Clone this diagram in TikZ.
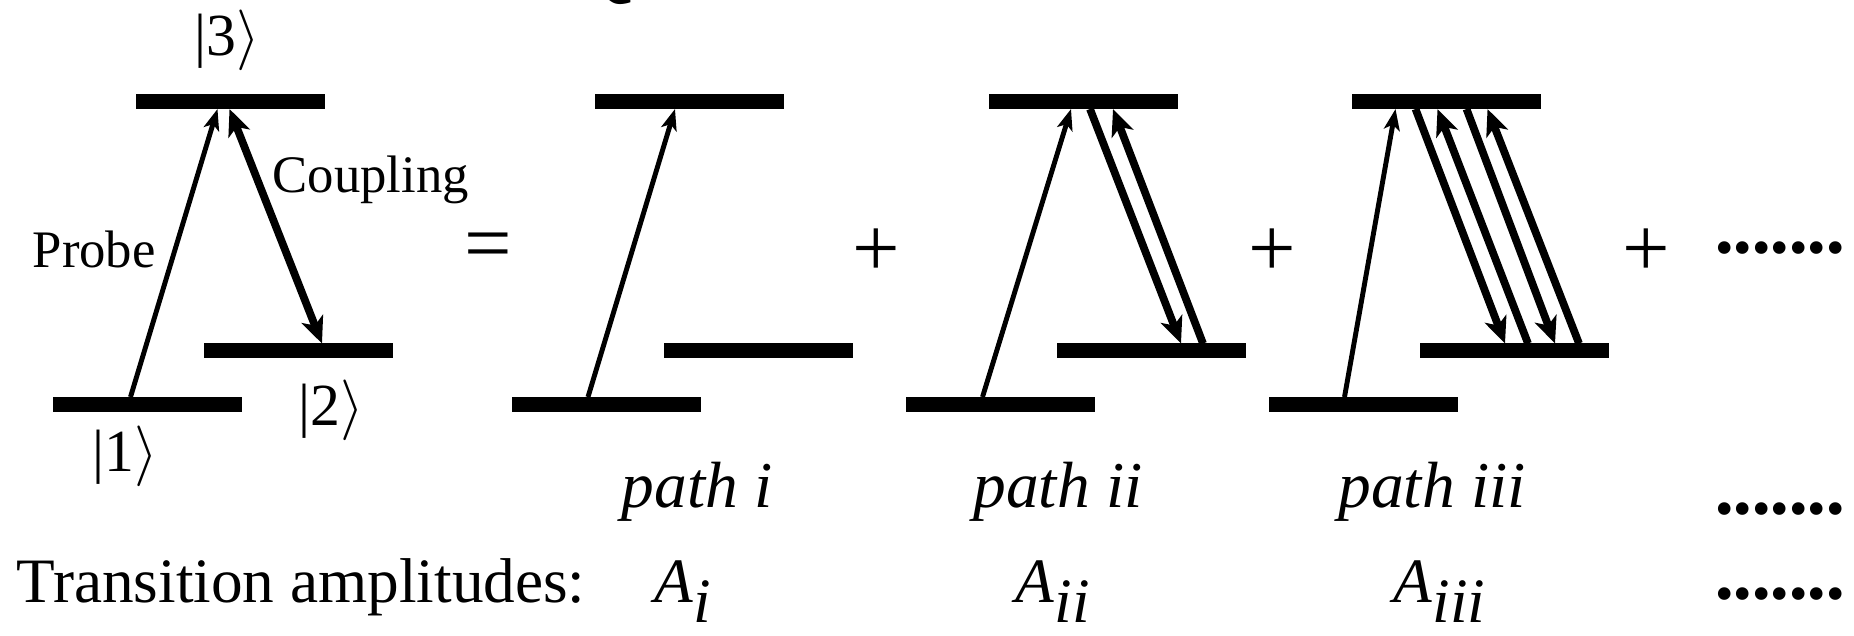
\documentclass[tikz,border=0pt]{standalone}
\usepackage{fontspec}
\setmainfont{Liberation Serif}
\usepackage{tikz}
\usetikzlibrary{arrows.meta, positioning}

\begin{document}
\begin{tikzpicture}[
    niveau/.style={rectangle, fill=black, minimum width=1.89cm,
                   minimum height=0.15cm, inner sep=0pt, outer sep=0pt},
    sonde/.style={-{Stealth[length=6pt, width=4.5pt, inset=1.5pt]}, line width=1.4pt},
    couplage/.style={-{Stealth[length=7.5pt, width=6.5pt, inset=2pt]}, line width=2.2pt},
    aller-retour/.style={{Stealth[length=7.5pt, width=6.5pt, inset=2pt]}-{Stealth[length=7.5pt, width=6.5pt, inset=2pt]},
                  line width=2.2pt},
    ket/.style={font=\fontsize{17}{19}\selectfont, inner sep=0pt},
    legende/.style={font=\fontsize{15}{17}\selectfont, inner sep=0pt, anchor=base west},
    signe/.style={font=\fontsize{24}{26}\selectfont, inner sep=0pt},
    chemin/.style={font=\fontsize{18.6}{21}\selectfont\itshape, inner sep=0pt, anchor=base},
    ampli/.style={font=\fontsize{18}{20}\selectfont, inner sep=0pt, anchor=base},
    points/.style={font=\fontsize{15}{17}\selectfont, inner sep=0pt}
  ]
    \useasboundingbox (0,0) rectangle (18.54,6.35);

    % Titre (coupe)
    \node[font=\fontsize{30}{32}\selectfont, inner sep=0pt, anchor=base west] (titre) at (5.56,6.475) {Q};

    % Schema Lambda
    \node[niveau] (L1) at (1.47,2.305) {};
    \node[niveau] (L2) at (2.985,2.84) {};
    \node[niveau] (L3) at (2.30,5.335) {};
    \node[ket] (k1) at (1.25,1.79) {|1$\rangle$};
    \node[ket] (k2) at (3.31,2.25) {|2$\rangle$};
    \node[ket] (k3) at (2.27,5.95) {|3$\rangle$};
    \draw[sonde] ([xshift=0.78cm]L1.north west) -- ([xshift=0.82cm]L3.south west);
    \draw[aller-retour] ([xshift=0.94cm]L3.south west) -- ([xshift=1.18cm]L2.north west);
    \node[legende] (tp) at (0.32,3.67) {Probe};
    \node[legende] (tc) at (2.72,4.42) {Coupling};

    \node[signe] (egal) at (4.88,3.83) {=};

    % Chemin i
    \node[niveau] (A1) at (6.065,2.305) {};
    \node[niveau] (A2) at (7.58,2.84) {};
    \node[niveau] (A3) at (6.895,5.335) {};
    \draw[sonde] ([xshift=0.76cm]A1.north west) -- ([xshift=0.80cm]A3.south west);

    \node[signe] (plus1) at (8.76,3.82) {+};

    % Chemin ii
    \node[niveau] (B1) at (10.00,2.305) {};
    \node[niveau] (B2) at (11.515,2.84) {};
    \node[niveau] (B3) at (10.835,5.335) {};
    \draw[sonde] ([xshift=0.77cm]B1.north west) -- ([xshift=0.82cm]B3.south west);
    \draw[couplage] ([xshift=1.01cm]B3.south west) -- ([xshift=1.24cm]B2.north west);
    \draw[couplage] ([xshift=1.46cm]B2.north west) -- ([xshift=1.24cm]B3.south west);

    \node[signe] (plus2) at (12.72,3.82) {+};

    % Chemin iii
    \node[niveau] (C1) at (13.63,2.305) {};
    \node[niveau] (C2) at (15.145,2.84) {};
    \node[niveau] (C3) at (14.46,5.335) {};
    \draw[sonde] ([xshift=0.76cm]C1.north west) -- ([xshift=0.44cm]C3.south west);
    \draw[couplage] ([xshift=0.64cm]C3.south west) -- ([xshift=0.85cm]C2.north west);
    \draw[couplage] ([xshift=1.08cm]C2.north west) -- ([xshift=0.86cm]C3.south west);
    \draw[couplage] ([xshift=1.15cm]C3.south west) -- ([xshift=1.35cm]C2.north west);
    \draw[couplage] ([xshift=1.59cm]C2.north west) -- ([xshift=1.36cm]C3.south west);

    \node[signe] (plus3) at (16.46,3.82) {+};
    \node[points] (suite1) at (17.80,3.81) {•••••••};

    % Legendes des chemins
    \node[chemin] (ci) at (6.97,1.28) {path i};
    \node[chemin] (cii) at (10.58,1.28) {path ii};
    \node[chemin] (ciii) at (14.32,1.28) {path iii};
    \node[points] (suite2) at (17.80,1.20) {•••••••};

    % Amplitudes
    \node[ampli, anchor=base west] (ta) at (0.16,0.33) {Transition amplitudes:};
    \node[ampli] (ai) at (6.84,0.33) {\textit{A}$_{\textit{i}}$};
    \node[ampli] (aii) at (10.535,0.33) {\textit{A}$_{\textit{ii}}$};
    \node[ampli] (aiii) at (14.405,0.33) {\textit{A}$_{\textit{iii}}$};
    \node[points] (suite3) at (17.80,0.35) {•••••••};
  \end{tikzpicture}
\end{document}
